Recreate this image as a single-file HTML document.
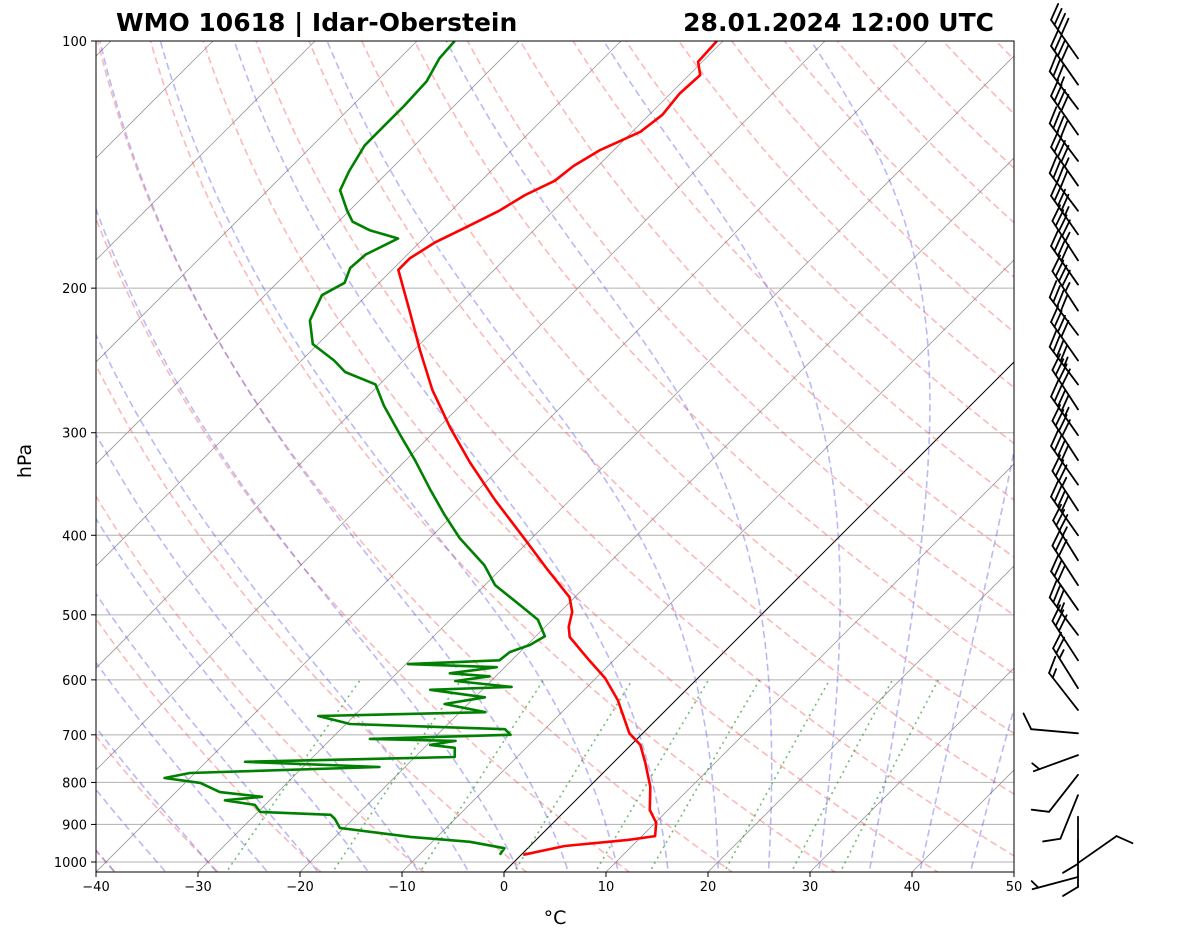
<!DOCTYPE html>
<html><head><meta charset="utf-8"><style>
body{margin:0;background:#fff;width:1181px;height:941px;overflow:hidden;font-family:"DejaVu Sans","Liberation Sans",sans-serif}
svg text{font-family:"DejaVu Sans","Liberation Sans",sans-serif}
</style></head><body>
<svg id="c" width="1181" height="941" xmlns="http://www.w3.org/2000/svg">
<defs><clipPath id="clip"><rect x="96" y="41" width="918" height="831"/></clipPath></defs>
<rect x="0" y="0" width="1181" height="941" fill="#fff"/>
<g id="bg" clip-path="url(#clip)"></g>
<g id="data" clip-path="url(#clip)"></g>
<rect x="96" y="41" width="918" height="831" fill="none" stroke="#000" stroke-width="1"/>
<g id="axes"></g>
<g id="barbs"></g>
<text x="116" y="31" font-size="25" font-weight="bold">WMO 10618 | Idar-Oberstein</text>
<text x="994" y="31" font-size="25" font-weight="bold" text-anchor="end">28.01.2024 12:00 UTC</text>
<text x="555" y="924" font-size="19" text-anchor="middle">°C</text>
<text x="31" y="461" font-size="19" text-anchor="middle" transform="rotate(-90 31 461)">hPa</text>
</svg>
<script>
const tempP=[980,956,940,930,896,864,810,758,720,697,657,635,597,568,532,517,496,476,441,405,362,326,296,266,238,213,190,184,176,169,161,154,148,142,136,129,123,116,110,106,100];
const tempT=[0.2,3.4,9.0,11.3,10.1,8.2,6.0,3.2,0.9,-1.3,-4.1,-5.7,-9.1,-12.4,-16.6,-17.7,-18.8,-20.5,-25.3,-30.5,-37.4,-43.5,-48.8,-54.3,-59.4,-64.3,-69.4,-69.4,-68.5,-67.0,-65.3,-64.3,-62.8,-62.4,-61.4,-59.2,-58.7,-59.1,-58.9,-60.4,-60.6];
const dewP=[980,962,945,932,909,886,876,869,852,841,833,822,801,790,779,766,755,745,726,720,712,708,700,689,679,664,657,642,630,617,612,602,594,589,579,574,568,555,544,531,507,489,460,435,403,378,352,324,302,278,262,253,245,234,219,204,197,189,182,177,174,170,166,161,152,144,134,127,120,112,105,100];
const dewT=[-2.1,-2.3,-6.3,-12.6,-20.4,-21.8,-22.6,-29.8,-31.0,-34.4,-31.1,-35.7,-38.5,-42.5,-40.5,-22.5,-36.2,-16.1,-17.0,-19.7,-17.6,-26.2,-12.8,-13.9,-29.6,-33.5,-17.5,-22.3,-19.0,-25.1,-17.4,-23.5,-20.6,-24.8,-20.8,-29.8,-21.2,-21.0,-19.7,-19.1,-21.4,-24.2,-29.0,-32.0,-37.1,-40.8,-44.7,-49.1,-53.0,-57.5,-60.4,-64.6,-66.8,-70.5,-73.1,-74.4,-73.4,-74.3,-74.1,-73.1,-72.5,-76.1,-78.6,-80.2,-82.9,-83.9,-84.9,-84.9,-84.9,-85.1,-86.1,-86.3];
const barbP=[105,113,121,130,140,150,161,172,185,198,213,228,245,262,281,302,324,347,373,400,429,460,493,529,568,614,653,697,741,783,829,881,940,1003,1043];
const barbDir=[325,325,323,325,323,325,323,325,327,325,327,323,325,323,327,325,327,325,327,325,328,327,325,323,327,328,322,275,250,218,202,180,180,55,255];
const barbSpd=[40,40,35,40,40,45,40,45,45,40,45,40,40,45,40,45,40,40,35,40,35,30,30,35,30,25,15,10,5,10,10,10,10,10,5];
const xTicks=[-40,-30,-20,-10,0,10,20,30,40,50];
const pTicks=[100,200,300,400,500,600,700,800,900,1000];

const X0=96,X1=1014,Y0=41,YB=872,PPD=10.2;
const NS='http://www.w3.org/2000/svg';
function yOf(p){return Y0+821*Math.log10(p/100);}
function xOf(T,p){return X0+(T+40)*PPD+(YB-yOf(p));}
function mk(tag,at,parent){const e=document.createElementNS(NS,tag);for(const k in at)e.setAttribute(k,at[k]);parent.appendChild(e);return e;}
const bg=document.getElementById('bg'),dg=document.getElementById('data'),ax=document.getElementById('axes'),bb=document.getElementById('barbs');
function pathFrom(pts){return pts.map((q,i)=>(i?'L':'M')+q[0].toFixed(1)+','+q[1].toFixed(1)).join('');}
const pLev=[];for(let p=1050;p>=100;p-=5)pLev.push(p);
pTicks.forEach(p=>{const l=mk('line',{x1:X0,x2:X1,y1:yOf(p),y2:yOf(p),stroke:'#b0b0b0','stroke-width':1},bg);

});
for(let T=-160;T<=50;T+=10){const l=mk('path',{d:pathFrom([[xOf(T,1050),yOf(1050)],[xOf(T,100),yOf(100)]]),stroke:T===0?'#000':'#999','stroke-width':T===0?1:0.8,fill:'none'},bg);

}
for(let t0=-50;t0<=200;t0+=10){const th=t0+273.15;const pts=pLev.map(p=>[xOf(th*Math.pow(p/1000,0.2857)-273.15,p),yOf(p)]);
const l=mk('path',{d:pathFrom(pts),stroke:'rgba(245,80,80,0.4)','stroke-width':1.6,'stroke-dasharray':'7,4',fill:'none'},bg);

}
function rs(T,p){const Tc=T-273.15;const es=6.112*Math.exp(17.67*Tc/(Tc+243.5));return 0.622*es/(p-es);}
function dTdp(T,p){const r=rs(T,p),Lv=2.501e6,Rd=287.04,Cp=1005.7;return (1/p)*(Rd*T+Lv*r)/(Cp+Lv*Lv*r*0.622/(Rd*T*T));}
for(let t0=-50;t0<=45;t0+=5){let T=t0+273.15,pts=[];let p=1000;
let Td=T;for(let pp=1000;pp<1050;pp+=1){Td+=dTdp(Td,pp);}pts.push([xOf(Td-273.15,1050),yOf(1050)]);
for(p=1000;p>=100;p-=2){pts.push([xOf(T-273.15,p),yOf(p)]);T-=2*dTdp(T,p);}
const l=mk('path',{d:pathFrom(pts),stroke:'rgba(80,80,230,0.4)','stroke-width':1.6,'stroke-dasharray':'7,4',fill:'none'},bg);

}
[0.0004,0.001,0.002,0.004,0.007,0.01,0.016,0.024,0.032].forEach(w=>{const pts=[];for(let p=1050;p>=600;p-=10){const e=w*p/(0.622+w);const a=Math.log(e/6.112);const Tc=243.5*a/(17.67-a);pts.push([xOf(Tc,p),yOf(p)]);}
const l=mk('path',{d:pathFrom(pts),stroke:'rgba(40,150,40,0.65)','stroke-width':1.6,'stroke-dasharray':'2,4',fill:'none'},bg);

});
const tl=mk('path',{d:pathFrom(tempP.map((p,i)=>[xOf(tempT[i],p),yOf(p)])),stroke:'#f00','stroke-width':2.6,fill:'none','stroke-linejoin':'round'},dg);


const dl=mk('path',{d:pathFrom(dewP.map((p,i)=>[xOf(dewT[i],p),yOf(p)])),stroke:'#008000','stroke-width':2.6,fill:'none','stroke-linejoin':'round'},dg);


xTicks.forEach(t=>{const x=X0+(t+40)*PPD;mk('line',{x1:x,x2:x,y1:YB,y2:YB+5,stroke:'#000'},ax);
const tx=mk('text',{x:x,y:YB+19,'font-size':13,'text-anchor':'middle'},ax);tx.textContent=t<0?'\u2212'+(-t):String(t);

});
pTicks.forEach(p=>{const y=yOf(p);mk('line',{x1:X0-5,x2:X0,y1:y,y2:y,stroke:'#000'},ax);
const tx=mk('text',{x:X0-9,y:y+5,'font-size':13,'text-anchor':'end'},ax);tx.textContent=String(p);

});
barbP.forEach((p,i)=>{const bx=1078,by=yOf(p),d=barbDir[i]*Math.PI/180;const ux=Math.sin(d),uy=-Math.cos(d);const L=47;
const g=mk('g',{stroke:'#000','stroke-width':1.8,fill:'none','stroke-linecap':'round'},bb);


const tx=bx+ux*L,ty=by+uy*L;mk('line',{x1:bx,y1:by,x2:tx,y2:ty},g);
let s=Math.round(barbSpd[i]/5)*5,pos=0;const px=-uy,py=ux;
function tick(len){const sx=tx-ux*pos,sy=ty-uy*pos;mk('line',{x1:sx,y1:sy,x2:sx+px*len+ux*len*0.6,y2:sy+py*len+uy*len*0.6},g);pos+=6;}
while(s>=50){const sx=tx-ux*pos,sy=ty-uy*pos;mk('path',{d:`M${sx},${sy}L${sx+px*16},${sy+py*16}L${sx-ux*8},${sy-uy*8}Z`,fill:'#000'},g);pos+=10;s-=50;}
while(s>=10){tick(15);s-=10;}
if(s>=5){if(pos===0)pos=6;tick(8);}
});
</script>
</body></html>
